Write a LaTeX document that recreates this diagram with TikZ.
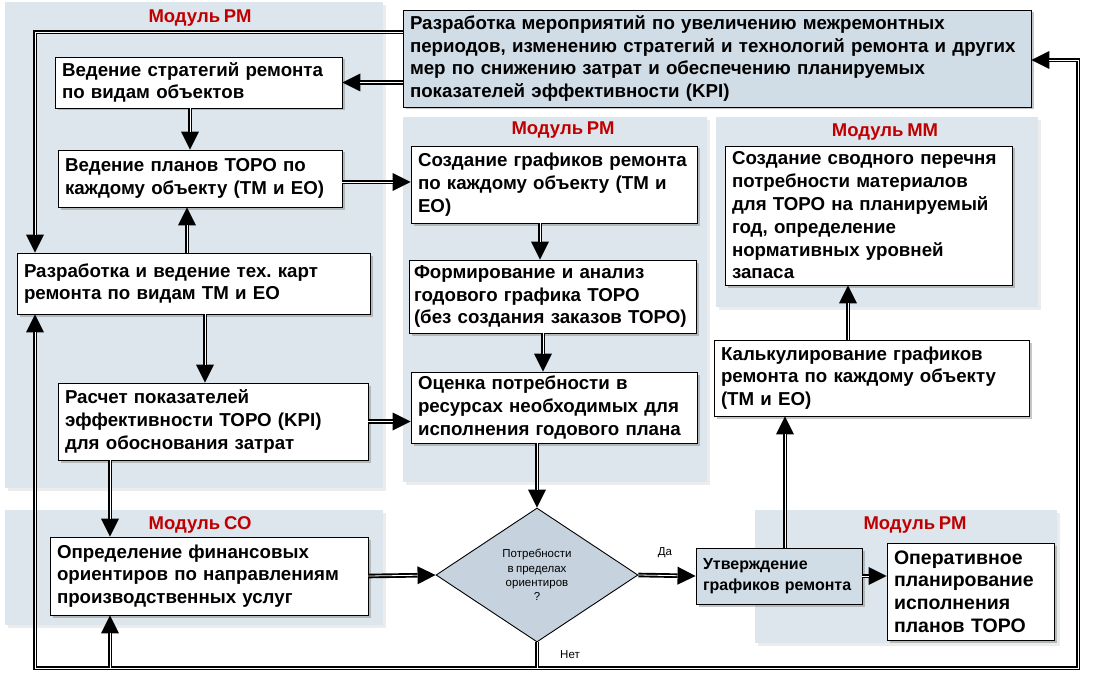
\documentclass[tikz,border=0pt]{standalone}
\usepackage{fontspec}
\setmainfont[WordSpace=0.75]{Liberation Sans}
\frenchspacing
\usetikzlibrary{arrows.meta,shapes.geometric,shadows}
\definecolor{panel}{RGB}{221,230,237}
\definecolor{topfill}{RGB}{208,220,230}
\definecolor{dfill}{RGB}{198,211,222}
\definecolor{lfill}{RGB}{208,220,230}
\definecolor{ttlred}{RGB}{192,0,0}
\begin{document}
\begin{tikzpicture}[x=1pt,y=-1pt,
  box/.style={draw=black, line width=0.9pt, fill=white, align=left, inner xsep=7pt, inner ysep=2pt,
    font=\fontsize{18.7}{22.8}\selectfont\bfseries,
    drop shadow={shadow xshift=2.5pt,shadow yshift=-2.5pt,opacity=0.45}},
  panelbox/.style={fill=panel, draw=none, inner sep=0pt,
    drop shadow={shadow xshift=3pt,shadow yshift=-3pt,opacity=0.15}},
  ttl/.style={text=ttlred, font=\fontsize{18.5}{20}\selectfont\bfseries, inner sep=0pt},
  arr/.style={draw=black, line width=4.6pt, -{Triangle[length=18pt,width=18pt,line width=0pt]},
    postaction={draw=white, line width=0.8pt, -, shorten >=18pt}},
  small/.style={font=\fontsize{11.5}{14.3}\selectfont, inner sep=0pt}
]
\useasboundingbox (0,0) rectangle (1095,682);
\fill[white] (0,0) rectangle (1095,682);

% panels
\node[panelbox, minimum width=378, minimum height=486] (P1) at (194,245) {};
\node[panelbox, minimum width=304, minimum height=365] (P2) at (555,299.5) {};
\node[panelbox, minimum width=322, minimum height=190] (P3) at (877,212) {};
\node[panelbox, minimum width=378, minimum height=115] (P4) at (194,567.5) {};
\node[panelbox, minimum width=302, minimum height=133] (P5) at (906,576.5) {};

% titles
\node[ttl] (t1) at (200,18) {Модуль РМ};
\node[ttl] (t2) at (563,130) {Модуль РМ};
\node[ttl] (t3) at (885,132) {Модуль ММ};
\node[ttl] (t4) at (200,525) {Модуль СО};
\node[ttl] (t5) at (915,525) {Модуль РМ};

% boxes
\node[box, fill=topfill, minimum width=628, minimum height=97, text width=614] (T) at (717,58.5)
  {Разработка мероприятий по увеличению межремонтных\\периодов, изменению стратегий и технологий ремонта и других\\мер по снижению затрат  и обеспечению планируемых\\показателей эффективности (KPI)};
\node[box, minimum width=287, minimum height=51, text width=273] (A) at (198.5,82.5)
  {Ведение стратегий ремонта\\по видам объектов};
\node[box, minimum width=284, minimum height=57, text width=270] (B) at (200,178.5)
  {Ведение планов ТОРО по\\каждому  объекту (ТМ и ЕО)};
\node[box, minimum width=353, minimum height=61, text width=339] (C) at (193.5,283.5)
  {Разработка и ведение тех. карт\\ремонта по видам ТМ и ЕО};
\node[box, minimum width=310, minimum height=77, text width=296] (D) at (213,421.5)
  {Расчет показателей\\эффективности ТОРО (KPI)\\для обоснования затрат};
\node[box, minimum width=286, minimum height=77, text width=272] (E) at (554,184.5)
  {Создание графиков ремонта\\по каждому  объекту (ТМ и\\ЕО)};
\node[box, minimum width=287, minimum height=73, text width=277, inner xsep=5pt] (F) at (552.5,296.5)
  {Формирование и анализ\\годового графика ТОРО\\(без создания заказов ТОРО)};
\node[box, minimum width=286, minimum height=71, text width=272] (G) at (554,407.5)
  {Оценка потребности в\\ресурсах необходимых для\\исполнения годового плана};
\node[box, minimum width=287, minimum height=139, text width=273] (H) at (868.5,215.5)
  {Создание сводного перечня\\потребности материалов\\для  ТОРО на планируемый\\год, определение\\нормативных уровней\\запаса};
\node[box, minimum width=315, minimum height=76, text width=301] (I) at (871.5,378)
  {Калькулирование графиков\\ремонта по каждому  объекту\\(ТМ и ЕО)};
\node[box, minimum width=318, minimum height=78, text width=304] (J) at (209,576)
  {Определение финансовых\\ориентиров по направлениям\\производственных услуг};
\node[box, fill=lfill, minimum width=166, minimum height=56, text width=152, inner xsep=7pt,
  font=\fontsize{16}{21}\selectfont\bfseries] (L) at (779,576)
  {Утверждение\\графиков ремонта};
\node[box, minimum width=167, minimum height=97, text width=153,
  font=\fontsize{19.5}{22.7}\selectfont\bfseries] (M) at (970.5,591.5)
  {Оперативное\\планирование\\исполнения\\планов ТОРО};
\node[diamond, draw=black, line width=0.9pt, fill=dfill, minimum width=202, minimum height=134,
  shape aspect=1.5, inner sep=0pt, align=center, small] (K) at (537,575)
  {Потребности\\в пределах\\ориентиров\\?};

% labels
\node[small] (da) at (665,553) {Да};
\node[small] (net) at (570,655) {Нет};

% helper coordinates
\coordinate (tl) at (35,32);
\coordinate (bl) at (35,668);
\coordinate (br) at (1078,668);
\coordinate (rt) at (1078,60);
\coordinate (x190) at (190,0);
\coordinate (x187) at (187,0);
\coordinate (x205) at (205,0);
\coordinate (x110) at (110,0);
\coordinate (x540) at (540,0);
\coordinate (x543) at (543,0);
\coordinate (x785) at (785,0);
\coordinate (x848) at (848,0);
\coordinate (y182) at (0,182);

% connectors
\draw[arr] (T.west |- A.east) -- (A.east);
\draw[arr] (T.west |- tl) -| (C.north -| tl);
\draw[arr] (A.south -| x190) -- (B.north -| x190);
\draw[arr] (C.north -| x187) -- (B.south -| x187);
\draw[arr] (B.east |- y182) -- (E.west |- y182);
\draw[arr] (C.south -| x205) -- (D.north -| x205);
\draw[arr] (D.east) -- (G.west |- D.east);
\draw[arr] (E.south -| x540) -- (F.north -| x540);
\draw[arr] (F.south -| x543) -- (G.north -| x543);
\draw[arr] (G.south -| K.north) -- (K.north);
\draw[arr] (D.south -| x110) -- (J.north -| x110);
\draw[arr] (J.east) -- (K.west);
\draw[arr] (K.east) -- (L.west);
\draw[arr] (L.east) -- (M.west |- L.east);
\draw[arr] (L.north -| x785) -- (I.south -| x785);
\draw[arr] (I.north -| x848) -- (H.south -| x848);
\draw[arr] (K.south) |- (br) |- (T.east |- rt);
\draw[arr] (K.south |- bl) -- (bl) -- (C.south -| bl);
\draw[arr] (x110 |- bl) -- (J.south -| x110);
\end{tikzpicture}
\end{document}
